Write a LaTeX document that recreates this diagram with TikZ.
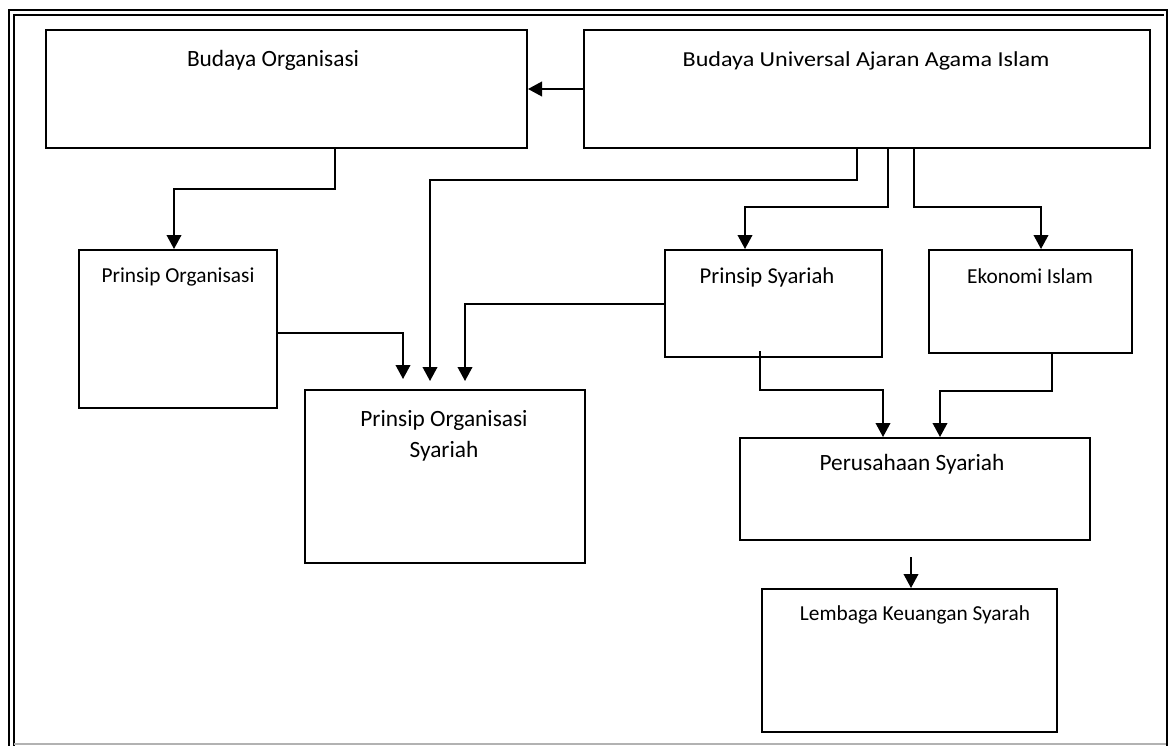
\documentclass[tikz,border=0pt]{standalone}
\usepackage{fontspec}
\setmainfont{Carlito}
\usetikzlibrary{arrows.meta,fit}
\tikzset{
  box/.style={draw=black, line width=1.5pt, inner sep=0pt},
  lbl/.style={anchor=base, inner sep=0pt, align=center},
  arr/.style={draw=black, line width=1.3pt, -{Triangle[width=11pt,length=10.5pt]}},
}
\begin{document}
\begin{tikzpicture}[x=0.75pt,y=-0.75pt]
\fill[white] (0,0) rectangle (1169,745);
\useasboundingbox (0,0) rectangle (1169,745);
% page frame
\draw[line width=2pt] (9,746) -- (9,10) -- (1167,10) -- (1167,746);
\draw[line width=1pt] (14,746) -- (14,15) -- (1164,15);
\draw[line width=0.8pt, gray!60] (14,744) -- (1166,744);
% boxes
\node[box, fit={(46,30) (527,148)}] (bo) {};
\node[box, fit={(584,30) (1150,148)}] (bu) {};
\node[box, fit={(79,250) (277,408)}] (po) {};
\node[box, fit={(305,390) (585,563)}] (pos) {};
\node[box, fit={(665,250) (882,357)}] (ps) {};
\node[box, fit={(929,250) (1132,353)}] (ek) {};
\node[box, fit={(740,438) (1090,540)}] (pe) {};
\node[box, fit={(762,589) (1057,732)}] (lk) {};
% texts
\node[lbl,font=\fontsize{17.5}{22}\selectfont] (tbo) at (273,67) {Budaya Organisasi};
\node[lbl,font=\fontsize{16}{20}\selectfont] (tbu) at (866,67) {\scalebox{1.13}[1]{Budaya Universal Ajaran Agama Islam}};
\node[lbl,font=\fontsize{16}{20}\selectfont] (tpo) at (178,282) {Prinsip Organisasi};
\node[lbl,anchor=north,font=\fontsize{17.5}{23.25}\selectfont] (tpos) at (444,410) {Prinsip Organisasi\\Syariah};
\node[lbl,font=\fontsize{17}{20}\selectfont] (tps) at (767,283) {Prinsip Syariah};
\node[lbl,font=\fontsize{16}{20}\selectfont] (tek) at (1030,283) {Ekonomi Islam};
\node[lbl,font=\fontsize{17.5}{20}\selectfont] (tpe) at (912,470) {Perusahaan Syariah};
\node[lbl,font=\fontsize{16}{20}\selectfont] (tlk) at (915,620) {Lembaga Keuangan Syarah};
% free ends
\coordinate (e3) at (430,381);
\coordinate (e6) at (403,379);
\coordinate (e7) at (465,381);
\coordinate (s8) at (760,351);
\coordinate (s10) at (911,557);
% connectors
\draw[arr] (bu.west) -- (bo.east);
\draw[arr] (bo.south -| 335,0) -- (335,189) -| (po.north -| 174,0);
\draw[arr] (bu.south -| 857,0) -- (857,180) -| (e3);
\draw[arr] (bu.south -| 888,0) -- (888,207) -| (ps.north -| 745,0);
\draw[arr] (bu.south -| 914,0) -- (914,207) -| (ek.north -| 1041,0);
\draw[arr] (po.east |- 0,333) -| (e6);
\draw[arr] (ps.west |- 0,304) -| (e7);
\draw[arr] (s8) -- (760,390) -| (pe.north -| 883,0);
\draw[arr] (ek.south -| 1052,0) -- (1052,391) -| (pe.north -| 940,0);
\draw[arr] (s10) -- (lk.north -| 911,0);
\end{tikzpicture}
\end{document}
